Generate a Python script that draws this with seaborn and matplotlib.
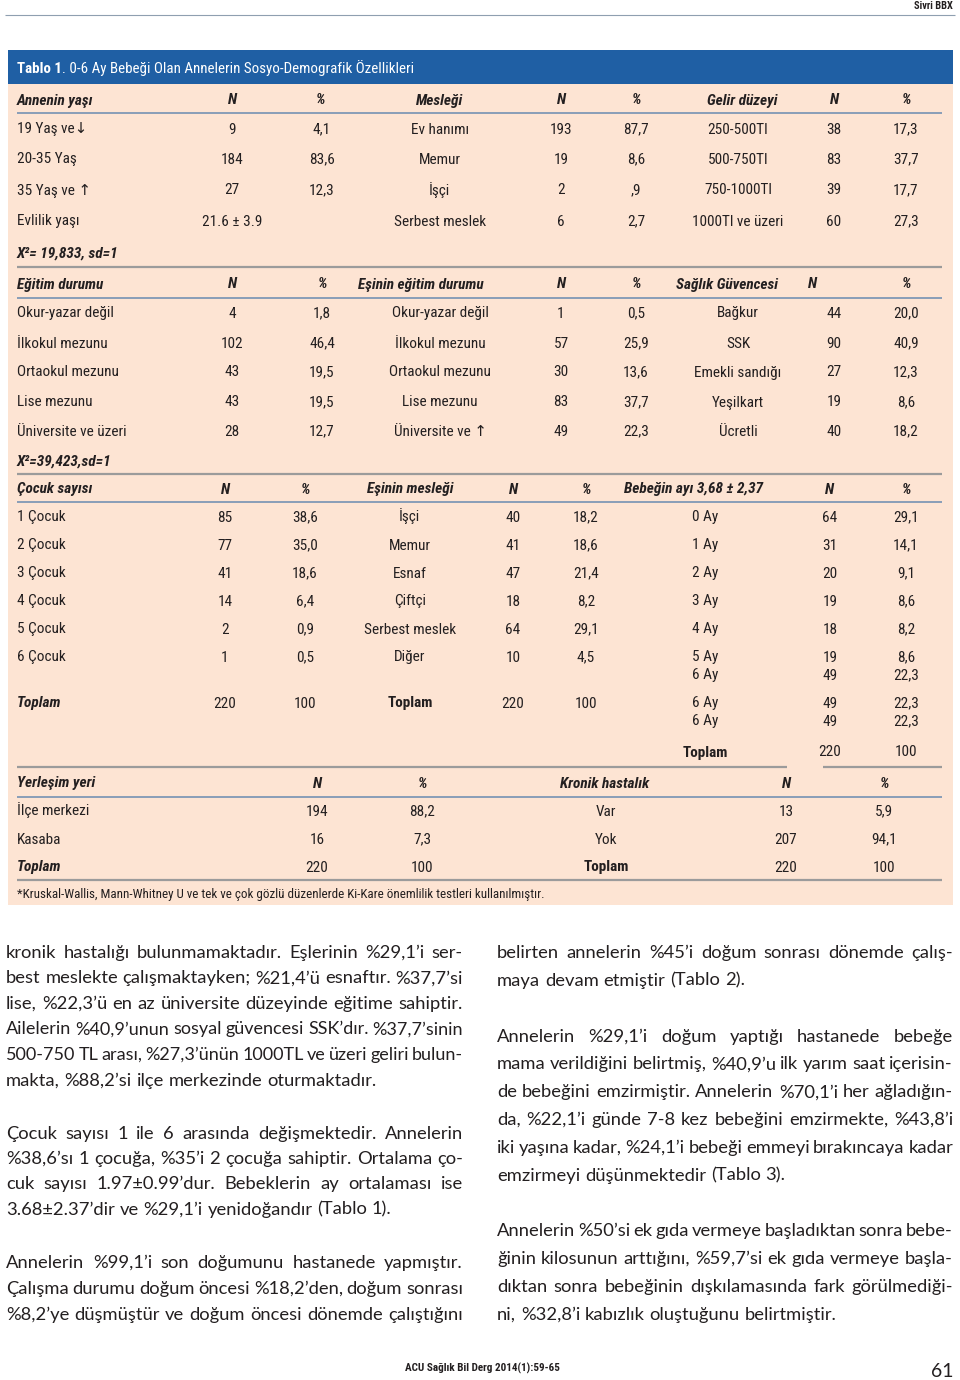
import matplotlib
matplotlib.use("Agg")
import matplotlib.pyplot as plt
import seaborn as sns
from matplotlib import font_manager as fm
from matplotlib.patches import Rectangle

sns.set_theme(style="white")
_avail = {f.name for f in fm.fontManager.ttflist}


def pick(*names):
    for n in names:
        if n in _avail:
            return n
    return "DejaVu Sans"


NARROW = pick("Liberation Sans Narrow", "Roboto Condensed", "Liberation Sans")
BODY = pick("Lato", "Open Sans", "Noto Sans")
plt.rcParams['font.family'] = [NARROW, 'DejaVu Sans']

# ---------------- data ----------------
age_labels = ["19 Yaş ve↓", "20-35 Yaş", "35 Yaş ve ↑", "Evlilik yaşı"]
age_n = ["9", "184", "27", "21.6 ± 3.9"]
age_pct = ["4,1", "83,6", "12,3", ""]
job_labels = ["Ev hanımı", "Memur", "İşçi", "Serbest meslek"]
job_n = ["193", "19", "2", "6"]
job_pct = ["87,7", "8,6", ",9", "2,7"]
income_labels = ["250-500Tl", "500-750Tl", "750-1000Tl", "1000Tl ve üzeri"]
income_n = ["38", "83", "39", "60"]
income_pct = ["17,3", "37,7", "17,7", "27,3"]
stat1 = "X²= 19,833, sd=1"

edu_labels = ["Okur-yazar değil", "İlkokul mezunu", "Ortaokul mezunu", "Lise mezunu", "Üniversite ve üzeri"]
edu_n = ["4", "102", "43", "43", "28"]
edu_pct = ["1,8", "46,4", "19,5", "19,5", "12,7"]
spouse_edu_labels = ["Okur-yazar değil", "İlkokul mezunu", "Ortaokul mezunu", "Lise mezunu", "Üniversite ve ↑"]
spouse_edu_n = ["1", "57", "30", "83", "49"]
spouse_edu_pct = ["0,5", "25,9", "13,6", "37,7", "22,3"]
ins_labels = ["Bağkur", "SSK", "Emekli sandığı", "Yeşilkart", "Ücretli"]
ins_n = ["44", "90", "27", "19", "40"]
ins_pct = ["20,0", "40,9", "12,3", "8,6", "18,2"]
stat2 = "X²=39,423,sd=1"

child_labels = ["1 Çocuk", "2 Çocuk", "3 Çocuk", "4 Çocuk", "5 Çocuk", "6 Çocuk"]
child_n = ["85", "77", "41", "14", "2", "1"]
child_pct = ["38,6", "35,0", "18,6", "6,4", "0,9", "0,5"]
spouse_job_labels = ["İşçi", "Memur", "Esnaf", "Çiftçi", "Serbest meslek", "Diğer"]
spouse_job_n = ["40", "41", "47", "18", "64", "10"]
spouse_job_pct = ["18,2", "18,6", "21,4", "8,2", "29,1", "4,5"]
baby_labels = ["0 Ay", "1 Ay", "2 Ay", "3 Ay", "4 Ay", "5 Ay", "6 Ay", "6 Ay", "6 Ay"]
baby_n = ["64", "31", "20", "19", "18", "19", "49", "49", "49"]
baby_pct = ["29,1", "14,1", "9,1", "8,6", "8,2", "8,6", "22,3", "22,3", "22,3"]
total_n = "220"
total_pct = "100"

res_labels = ["İlçe merkezi", "Kasaba"]
res_n = ["194", "16"]
res_pct = ["88,2", "7,3"]
chronic_labels = ["Var", "Yok"]
chronic_n = ["13", "207"]
chronic_pct = ["5,9", "94,1"]

title_bold = "Tablo 1"
title_rest = ". 0-6 Ay Bebeği Olan Annelerin Sosyo-Demografik Özellikleri"
footnote = ("*Kruskal-Wallis, Mann-Whitney U ve tek ve çok gözlü düzenlerde "
            "Ki-Kare önemlilik testleri kullanılmıştır.")

left_paras = [
    ["kronik hastalığı bulunmamaktadır. Eşlerinin %29,1’i ser-",
     "best meslekte çalışmaktayken; %21,4’ü esnaftır. %37,7’si",
     "lise, %22,3’ü en az üniversite düzeyinde eğitime sahiptir.",
     "Ailelerin %40,9’unun sosyal güvencesi SSK’dır. %37,7’sinin",
     "500-750 TL arası, %27,3’ünün 1000TL ve üzeri geliri bulun-",
     "makta, %88,2’si ilçe merkezinde oturmaktadır."],
    ["Çocuk sayısı 1 ile 6 arasında değişmektedir. Annelerin",
     "%38,6’sı 1 çocuğa, %35’i 2 çocuğa sahiptir. Ortalama ço-",
     "cuk sayısı 1.97±0.99’dur. Bebeklerin ay ortalaması ise",
     "3.68±2.37’dir ve %29,1’i yenidoğandır (Tablo 1)."],
    ["Annelerin %99,1’i son doğumunu hastanede yapmıştır.",
     "Çalışma durumu doğum öncesi %18,2’den, doğum sonrası",
     "%8,2’ye düşmüştür ve doğum öncesi dönemde çalıştığını"],
]
left_last_justified = [False, False, True]
right_paras = [
    ["belirten annelerin %45’i doğum sonrası dönemde çalış-",
     "maya devam etmiştir (Tablo 2)."],
    ["Annelerin %29,1’i doğum yaptığı hastanede bebeğe",
     "mama verildiğini belirtmiş, %40,9’u ilk yarım saat içerisin-",
     "de bebeğini emzirmiştir. Annelerin %70,1’i her ağladığın-",
     "da, %22,1’i günde 7-8 kez bebeğini emzirmekte, %43,8’i",
     "iki yaşına kadar, %24,1’i bebeği emmeyi bırakıncaya kadar",
     "emzirmeyi düşünmektedir (Tablo 3)."],
    ["Annelerin %50’si ek gıda vermeye başladıktan sonra bebe-",
     "ğinin kilosunun arttığını, %59,7’si ek gıda vermeye başla-",
     "dıktan sonra bebeğinin dışkılamasında fark görülmediği-",
     "ni, %32,8’i kabızlık oluştuğunu belirtmiştir."],
]
right_last_justified = [False, False, False]

# ---------------- layout ----------------
W, H = 960, 1380
fig = plt.figure(figsize=(9.6, 13.8), dpi=100)
fig.patch.set_facecolor("white")
ax = fig.add_axes([0, 0, 1, 1])
ax.set_xlim(0, W)
ax.set_ylim(H, 0)
ax.axis("off")
renderer = fig.canvas.get_renderer()

INK = "#231f20"
BLUE = "#1f5fa4"
PEACH = "#fde4d3"
RULE_TOP = "#9b9b9b"
RULE_HEAD = "#7f98b6"
FS = 11
PX = 100 / 72.0


def txt(x, y, s, ha="left", size=FS, weight="normal", style="normal",
        color=INK, family=None):
    fam = family if family is not None else [NARROW, "DejaVu Sans"]
    # y is the visual centre of capitals; place baseline below it
    return ax.text(x, y + 0.36 * size * PX, s, ha=ha, va="baseline",
                   fontsize=size, fontweight=weight, fontstyle=style,
                   color=color, family=fam)


def hdr(x, y, s, ha="center"):
    return txt(x, y, s, ha=ha, weight="bold", style="italic")


def rule(y, x0=17, x1=942, color=RULE_HEAD, lw=1.3):
    ax.plot([x0, x1], [y, y], color=color, lw=lw, solid_capstyle="butt")


# page header
txt(953, 5, "Sivri BBX", ha="right", size=7.5, weight="bold")
rule(15, 5, 955, color="#8f9fb0", lw=0.8)

# table background
ax.add_patch(Rectangle((8, 50), 945, 34, facecolor=BLUE, edgecolor="none"))
ax.add_patch(Rectangle((8, 84), 945, 821, facecolor=PEACH, edgecolor="none"))
t = txt(17, 68, title_bold, size=10.8, weight="bold", color="white")
bb = t.get_window_extent(renderer)
txt(17 + bb.width, 68, title_rest, size=10.8, color="white")

# ---- section 1
hdr(17, 99, "Annenin yaşı", ha="left")
for x, s in [(232, "N"), (320, "%"), (440, "Mesleği"), (561, "N"), (636, "%"),
             (742, "Gelir düzeyi"), (834, "N"), (906, "%")]:
    hdr(x, 99, s)
rule(113)
rows1 = [128, 158, 189, 220]
for i, y in enumerate(rows1):
    txt(17, y, age_labels[i])
    txt(232, y, age_n[i], ha="center")
    txt(322, y, age_pct[i], ha="center")
    txt(440, y, job_labels[i], ha="center")
    txt(561, y, job_n[i], ha="center")
    txt(636, y, job_pct[i], ha="center")
    txt(738, y, income_labels[i], ha="center")
    txt(834, y, income_n[i], ha="center")
    txt(906, y, income_pct[i], ha="center")
txt(17, 252, stat1, weight="bold", style="italic")

# ---- section 2
rule(267, color=RULE_TOP, lw=1.6)
hdr(17, 283, "Eğitim durumu", ha="left")
for x, s in [(232, "N"), (322, "%"), (421, "Eşinin eğitim durumu"), (561, "N"),
             (636, "%"), (727, "Sağlık Güvencesi"), (812, "N"), (906, "%")]:
    hdr(x, 283, s)
rule(298)
rows2 = [312, 342, 371, 401, 430]
for i, y in enumerate(rows2):
    txt(17, y, edu_labels[i])
    txt(232, y, edu_n[i], ha="center")
    txt(322, y, edu_pct[i], ha="center")
    txt(440, y, spouse_edu_labels[i], ha="center")
    txt(561, y, spouse_edu_n[i], ha="center")
    txt(636, y, spouse_edu_pct[i], ha="center")
    txt(738, y, ins_labels[i], ha="center")
    txt(834, y, ins_n[i], ha="center")
    txt(906, y, ins_pct[i], ha="center")
txt(17, 460, stat2, weight="bold", style="italic")

# ---- section 3
rule(474, color=RULE_TOP, lw=1.6)
hdr(17, 488, "Çocuk sayısı", ha="left")
for x, s in [(225, "N"), (305, "%"), (410, "Eşinin mesleği"), (513, "N"),
             (586, "%"), (694, "Bebeğin ayı 3,68 ± 2,37"), (829, "N"), (906, "%")]:
    hdr(x, 488, s)
rule(502)
rows3 = [516, 544, 572, 600, 628, 656]
for i, y in enumerate(rows3):
    txt(17, y, child_labels[i])
    txt(225, y, child_n[i], ha="center")
    txt(305, y, child_pct[i], ha="center")
    txt(410, y, spouse_job_labels[i], ha="center")
    txt(513, y, spouse_job_n[i], ha="center")
    txt(586, y, spouse_job_pct[i], ha="center")
rows_baby = [516, 544, 572, 600, 628, 656, 674, 702, 720]
for i, y in enumerate(rows_baby):
    txt(705, y, baby_labels[i], ha="center")
    txt(830, y, baby_n[i], ha="center")
    txt(906, y, baby_pct[i], ha="center")
hdr(17, 702, "Toplam", ha="left")
txt(225, 702, total_n, ha="center")
txt(305, 702, total_pct, ha="center")
txt(410, 702, "Toplam", ha="center", weight="bold")
txt(513, 702, total_n, ha="center")
txt(586, 702, total_pct, ha="center")
txt(705, 751, "Toplam", ha="center", weight="bold")
txt(830, 751, total_n, ha="center")
txt(906, 751, total_pct, ha="center")

# ---- section 4
rule(767, 17, 787, color=RULE_TOP, lw=1.6)
rule(767, 823, 942, color=RULE_TOP, lw=1.6)
hdr(17, 782, "Yerleşim yeri", ha="left")
for x, s in [(317, "N"), (422, "%"), (605, "Kronik hastalık"), (786, "N"), (884, "%")]:
    hdr(x, 782, s)
rule(797)
rows4 = [810, 838]
for i, y in enumerate(rows4):
    txt(17, y, res_labels[i])
    txt(317, y, res_n[i], ha="center")
    txt(422, y, res_pct[i], ha="center")
    txt(606, y, chronic_labels[i], ha="center")
    txt(786, y, chronic_n[i], ha="center")
    txt(884, y, chronic_pct[i], ha="center")
hdr(17, 866, "Toplam", ha="left")
txt(317, 866, total_n, ha="center")
txt(422, 866, total_pct, ha="center")
txt(606, 866, "Toplam", ha="center", weight="bold")
txt(786, 866, total_n, ha="center")
txt(884, 866, total_pct, ha="center")
rule(880, color=RULE_TOP, lw=1.6)
txt(17, 893, footnote, size=9.4)

# ---------------- body text (justified) ----------------
BODY_FS = 13.2
BFAM = [BODY, "DejaVu Sans"]


def line_words(x0, x1, y, line, justify):
    words = line.split(" ")
    size = BODY_FS
    while True:
        yb = y + 0.36 * size * PX
        arts = [ax.text(0, yb, w, fontsize=size, family=BFAM, color=INK,
                        va="baseline", ha="left") for w in words]
        widths = [a.get_window_extent(renderer).width for a in arts]
        sp = ax.text(0, yb, "a a", fontsize=size, family=BFAM)
        sp2 = ax.text(0, yb, "aa", fontsize=size, family=BFAM)
        space = sp.get_window_extent(renderer).width - sp2.get_window_extent(renderer).width
        sp.remove()
        sp2.remove()
        total = sum(widths)
        n = len(words)
        if justify and n > 1:
            gap = (x1 - x0 - total) / (n - 1)
        else:
            gap = space
        too_tight = (justify and gap < 0.55 * space) or \
                    (not justify and total + gap * (n - 1) > x1 - x0)
        if too_tight:
            for a in arts:
                a.remove()
            size -= 0.2
            continue
        break
    x = x0
    for a, w in zip(arts, widths):
        a.set_x(x)
        x += w + gap


def column(x0, x1, paras, starts, spacings, last_just):
    for p, y0, dy, lj in zip(paras, starts, spacings, last_just):
        for k, line in enumerate(p):
            justify = (k < len(p) - 1) or lj
            line_words(x0, x1, y0 + k * dy, line, justify)


column(6, 463, left_paras, [951, 1132, 1261], [25.6, 25.4, 26.0], left_last_justified)
column(497, 953, right_paras, [951, 1035, 1229], [28.0, 27.8, 28.0], right_last_justified)

# footer
txt(405, 1368, "ACU Sağlık Bil Derg 2014(1):59-65", size=8.0, weight="bold")
txt(953, 1370, "61", ha="right", size=14, family=BFAM)

fig.savefig("out.png", dpi=100, facecolor="white")
